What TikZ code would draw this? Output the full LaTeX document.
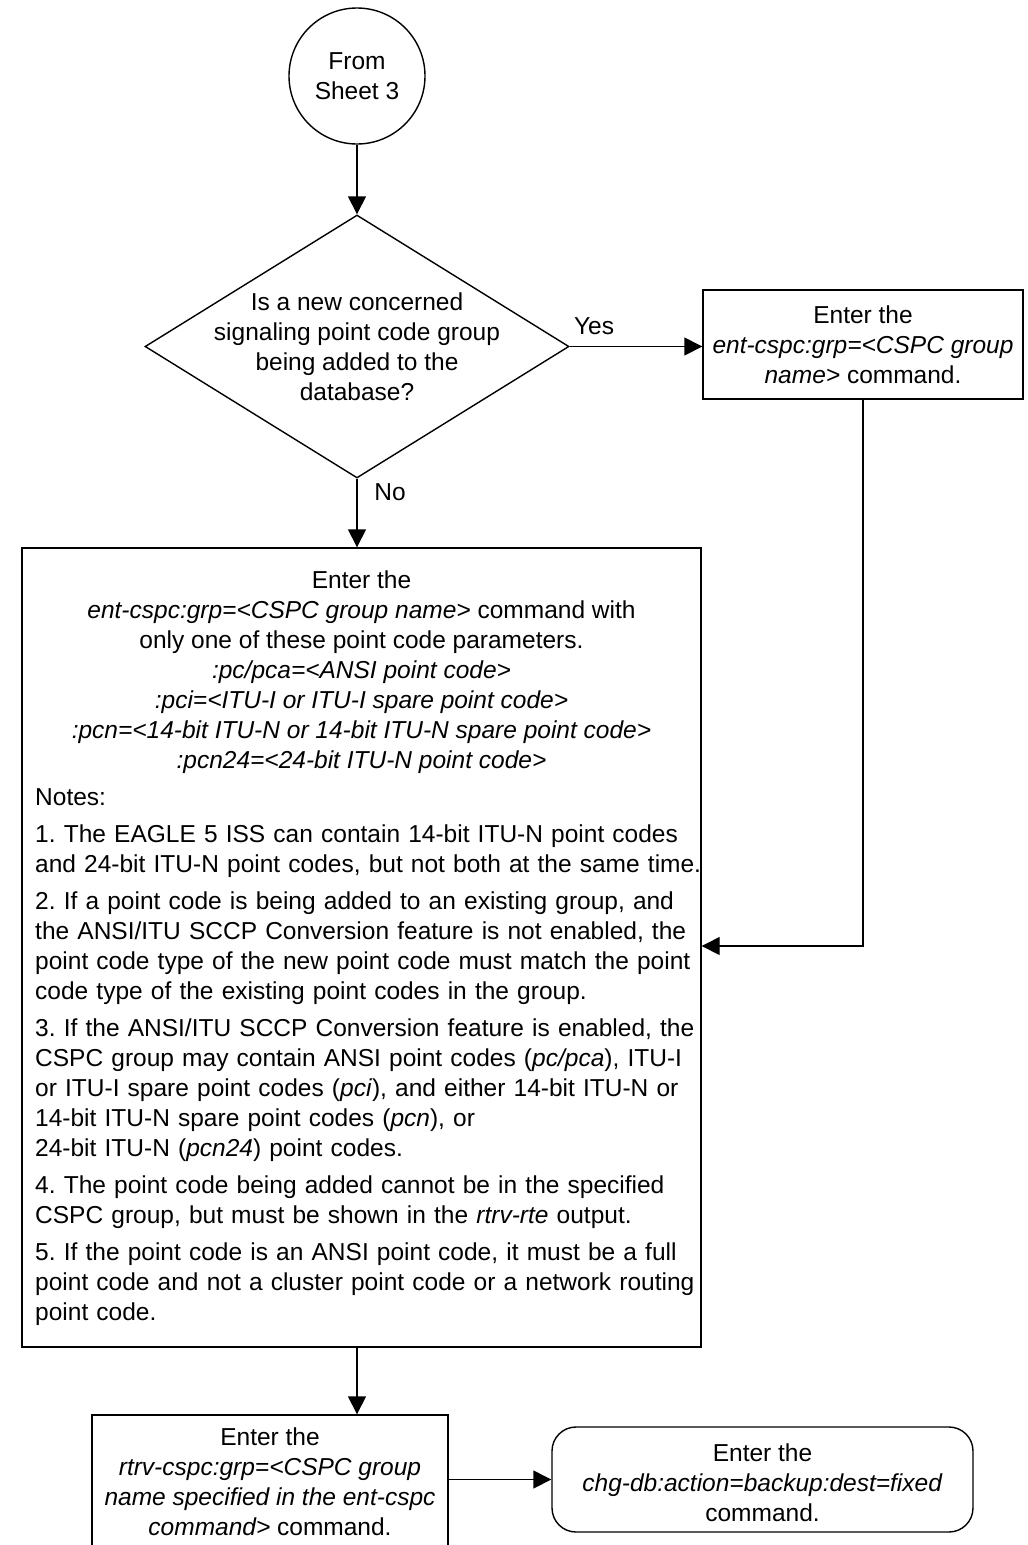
\documentclass[tikz,border=0pt]{standalone}
\usepackage{fontspec}
\setmainfont{Liberation Sans}
\usetikzlibrary{shapes.geometric,arrows.meta}
\frenchspacing
\begin{document}
\begin{tikzpicture}[x=1pt,y=1pt,
  every node/.style={font=\fontsize{24.5}{30}\selectfont},
  shp/.style={draw,line width=1.4pt,align=center,inner sep=0pt},
  arr/.style={line width=1.4pt,-{Triangle[length=18pt,width=18pt]}},
  lbl/.style={inner sep=0pt,align=center}]
\useasboundingbox[fill=white] (0,0) rectangle (1028,-1545);
% start connector
\node[shp,circle,minimum size=136pt] (c) at (357,-76) {From\\Sheet 3};
% decision
\node[shp,diamond,minimum width=424pt,minimum height=263pt] (d) at (357,-346.5) {};
\node[lbl] (dtext) at (357,-346.5)
  {Is a new concerned\\signaling point code group\\being added to the\\database?};
\node[lbl] (yes) at (594,-326) {Yes};
\node[lbl] (no) at (390,-492) {No};
% yes box
\node[shp,rectangle,minimum width=320pt,minimum height=109pt] (yb) at (863,-344.5)
  {Enter the\\\textit{ent-cspc:grp=<CSPC group}\\\textit{name>} command.};
% big box
\node[shp,rectangle,minimum width=679pt,minimum height=799pt] (big) at (361.5,-947.5) {};
\node[lbl,anchor=north] (bighead) at (361.5,-571)
  {Enter the\\
   \textit{ent-cspc:grp=<CSPC group name>} command with\\
   only one of these point code parameters.\\
   \textit{:pc/pca=<ANSI point code>}\\
   \textit{:pci=<ITU-I or ITU-I spare point code>}\\
   \textit{:pcn=<14-bit ITU-N or 14-bit ITU-N spare point code>}\\
   \textit{:pcn24=<24-bit ITU-N point code>}};
\node[inner sep=0pt,anchor=north west,align=left,text width=700pt] (notes) at (35,-788)
  {Notes:\par\vspace{7pt}
   1. The EAGLE 5 ISS can contain 14-bit ITU-N point codes\\
   and 24-bit ITU-N point codes, but not both at the same time.\par\vspace{7pt}
   2. If a point code is being added to an existing group, and\\
   the ANSI/ITU SCCP Conversion feature is not enabled, the\\
   point code type of the new point code must match the point\\
   code type of the existing point codes in the group.\par\vspace{7pt}
   3. If the ANSI/ITU SCCP Conversion feature is enabled, the\\
   CSPC group may contain ANSI point codes (\textit{pc/pca}), ITU-I\\
   or ITU-I spare point codes (\textit{pci}), and either 14-bit ITU-N or\\
   14-bit ITU-N spare point codes (\textit{pcn}), or\\
   24-bit ITU-N (\textit{pcn24}) point codes.\par\vspace{7pt}
   4. The point code being added cannot be in the specified\\
   CSPC group, but must be shown in the \textit{rtrv-rte} output.\par\vspace{7pt}
   5. If the point code is an ANSI point code, it must be a full\\
   point code and not a cluster point code or a network routing\\
   point code.};
% bottom boxes
\node[shp,rectangle,minimum width=356pt,minimum height=150pt] (bot) at (270,-1490) {};
\node[lbl,anchor=north] (bottext) at (270,-1428)
  {Enter the\\\textit{rtrv-cspc:grp=<CSPC group}\\\textit{name specified in the ent-cspc}\\\textit{command>} command.};
\node[shp,rectangle,rounded corners=24pt,minimum width=421pt,minimum height=105pt] (rb) at (762.5,-1479.5) {};
\node[lbl] (rbtext) at (762.5,-1483)
  {Enter the\\\textit{chg-db:action=backup:dest=fixed}\\command.};
% connectors
\coordinate (turn) at (yb.south |- 0,-946);
\draw[arr] (c) -- (d.north);
\draw[arr] (d.east) -- (d.east -| yb.west);
\draw[arr] (d.south) -- (big.north -| d.south);
\draw[arr] (yb.south) -- (turn) -- (turn -| big.east);
\draw[arr] (big.south -| d.south) -- (bot.north -| d.south);
\draw[arr] (bot.east |- rb.west) -- (rb.west);
\end{tikzpicture}
\end{document}
